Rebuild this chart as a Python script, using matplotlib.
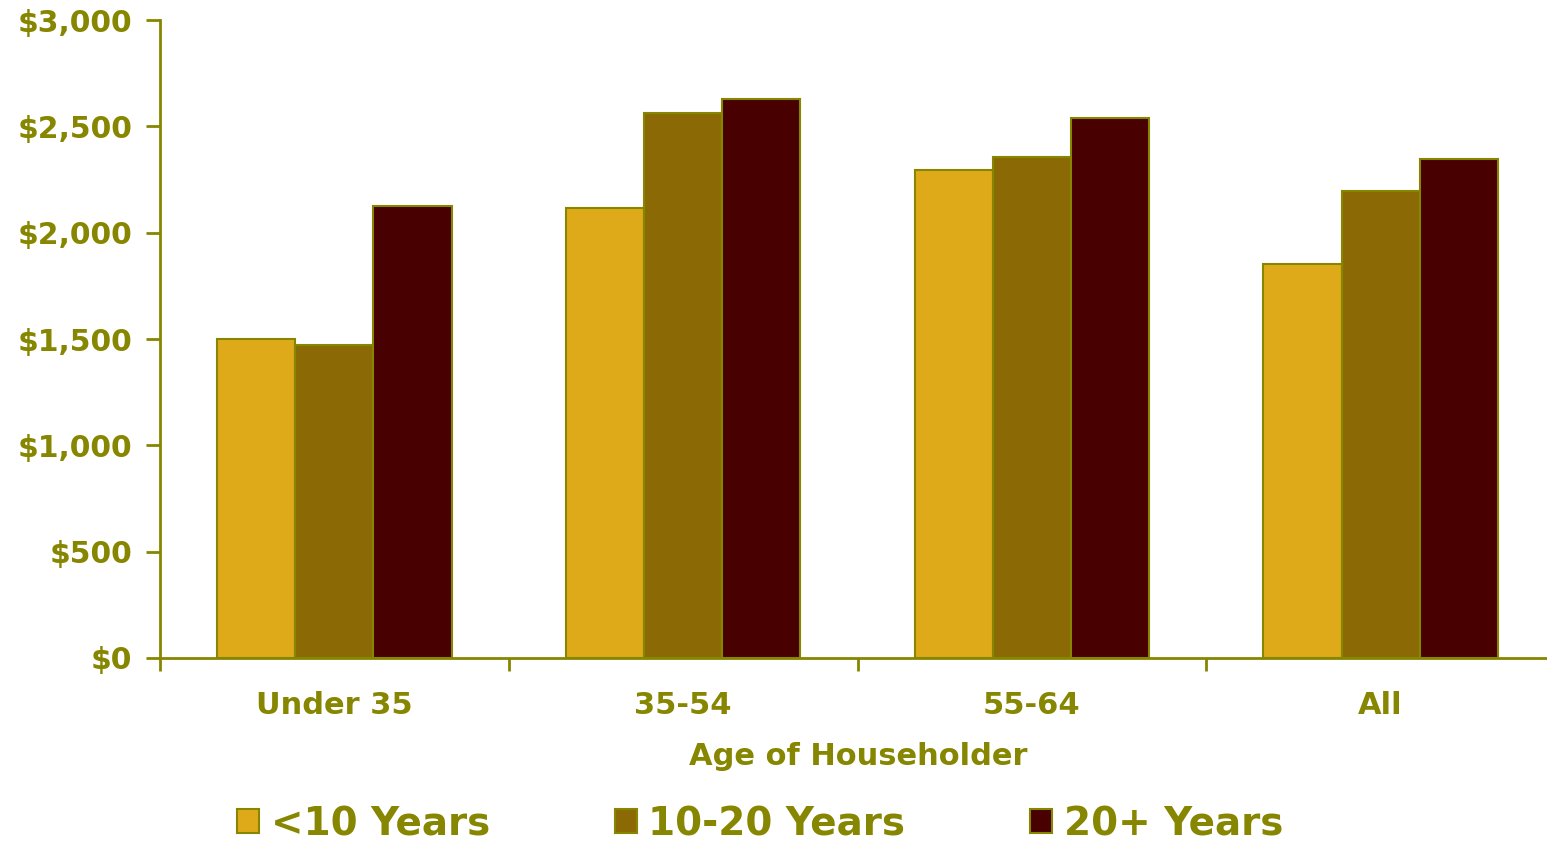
import matplotlib
matplotlib.use("Agg")
import matplotlib.pyplot as plt
import numpy as np
from matplotlib.ticker import FuncFormatter

categories = ["Under 35", "35-54", "55-64", "All"]
series_names = ["<10 Years", "10-20 Years", "20+ Years"]
under_10 = [1500, 2115, 2295, 1855]
ten_to_20 = [1470, 2565, 2355, 2195]
over_20 = [2125, 2630, 2540, 2345]
y_ticks = [0, 500, 1000, 1500, 2000, 2500, 3000]

olive = "#868600"
colors = ["#DEAA1A", "#8B6A06", "#480000"]
plt.rcParams["font.family"] = ["DejaVu Sans"]
plt.rcParams["font.weight"] = "bold"

W, H = 1547, 842
fig = plt.figure(figsize=(W / 100, H / 100), dpi=100)
ax = fig.add_axes([160 / W, 1 - 658 / H, (1555 - 160) / W, (658 - 20) / H])

x = np.arange(len(categories))
bw = 0.224
for i, (vals, name) in enumerate(zip([under_10, ten_to_20, over_20], series_names)):
    ax.bar(x + (i - 1) * bw, vals, width=bw, color=colors[i], edgecolor=olive,
           linewidth=1.5, label=name, zorder=2)

ax.set_xlim(-0.5, len(categories) - 0.5)
ax.set_ylim(0, 3000)
ax.set_yticks(y_ticks)
ax.yaxis.set_major_formatter(FuncFormatter(lambda v, p: f"${v:,.0f}"))
ax.set_xticks(x)
ax.set_xticklabels(categories)
ax.set_xticks(np.arange(len(categories)) - 0.5, minor=True)
ax.tick_params(axis="x", which="major", length=0, pad=24, labelsize=22, labelcolor=olive)
ax.tick_params(axis="x", which="minor", length=9, width=2, color=olive, direction="out")
ax.tick_params(axis="y", length=10, width=2, color=olive, labelsize=21.5,
               labelcolor=olive, pad=10)
for lab in ax.get_xticklabels() + ax.get_yticklabels():
    lab.set_fontweight("bold")

for s in ["top", "right"]:
    ax.spines[s].set_visible(False)
for s in ["left", "bottom"]:
    ax.spines[s].set_color(olive)
    ax.spines[s].set_linewidth(2)

ax.set_xlabel("Age of Householder", color=olive, fontsize=22, fontweight="bold")
ax.xaxis.set_label_coords((858 - 160) / (1555 - 160), -0.132)

leg = fig.legend(loc="center", bbox_to_anchor=(760 / W, 1 - 824 / H), ncol=3,
                 frameon=False, fontsize=28, handlelength=0.57, handleheight=0.57,
                 handletextpad=0.3, columnspacing=3.2, borderpad=0.1)
for t in leg.get_texts():
    t.set_color(olive)
    t.set_fontweight("bold")

fig.savefig("out.png", dpi=100)
